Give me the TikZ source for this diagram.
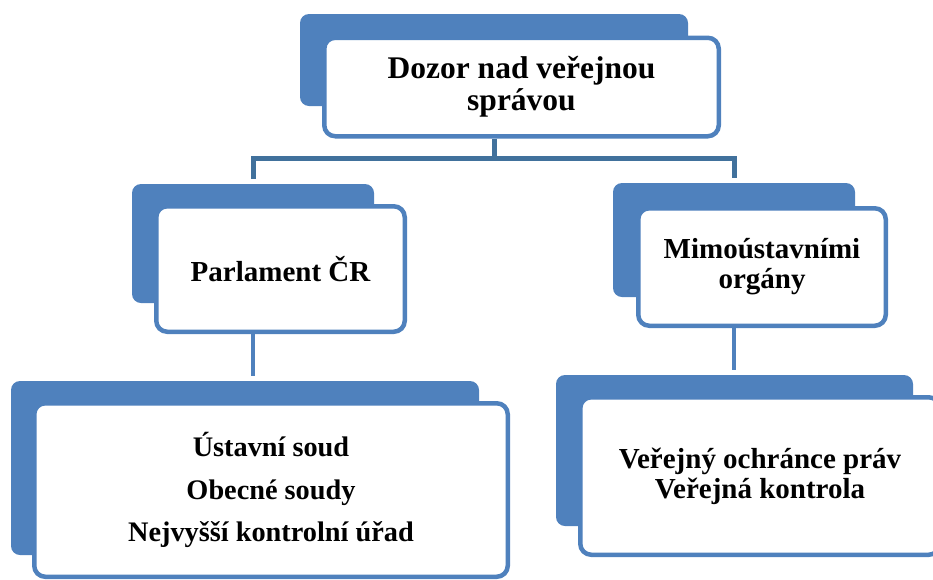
\documentclass[tikz,border=0pt]{standalone}
\usepackage{fontspec}
\setmainfont{Liberation Serif}
\definecolor{smartblue}{HTML}{4F81BD}
\definecolor{linkblue}{HTML}{41719C}

\begin{document}
\begin{tikzpicture}[x=1pt,y=-1pt,
    back/.style={fill=smartblue, rounded corners=9pt, inner sep=0pt},
    card/.style={draw=smartblue, line width=4.5pt, fill=white, rounded corners=11pt,
        inner sep=0pt, align=center, font=\bfseries\fontsize{29}{30}\selectfont},
    link/.style={draw=smartblue, line width=4.5pt},
    bar/.style={draw=linkblue, line width=5pt}]
    \path[use as bounding box, clip] (0,0) rectangle (933,579);
    % top level
    \node[back, minimum width=388pt, minimum height=92pt] (topback) at (494,60) {};
    \node[card, minimum width=394.5pt, minimum height=98.5pt,
        font=\bfseries\fontsize{31.5}{32}\selectfont] (topcard) at (521.5,87)
        {Dozor nad veřejnou\\správou};
    % second level
    \node[back, minimum width=242pt, minimum height=119pt] (leftback) at (253,243.5) {};
    \node[card, minimum width=248.5pt, minimum height=125.5pt] (leftcard) at (280.5,269)
        {Parlament ČR};
    \node[back, minimum width=242pt, minimum height=114pt] (rightback) at (734,240) {};
    \node[card, minimum width=247.5pt, minimum height=117.5pt] (rightcard) at (762,267)
        {Mimoústavními\\orgány};
    % third level
    \node[back, minimum width=468pt, minimum height=174pt] (botleftback) at (245,468) {};
    \node[card, minimum width=473.5pt, minimum height=173.5pt,
        font=\bfseries\fontsize{28.3}{30}\selectfont] (botleftcard) at (271,490)
        {Ústavní soud\\[12.5pt]Obecné soudy\\[12.5pt]Nejvyšší kontrolní úřad};
    \node[back, minimum width=357pt, minimum height=151pt] (botrightback) at (734.5,450.5) {};
    \node[card, minimum width=359.5pt, minimum height=157.5pt] (botrightcard) at (760,476)
        {Veřejný ochránce práv\\Veřejná kontrola};
    % connectors
    \coordinate (split) at (494,158);
    \draw[bar] (topcard.south -| topback) -- (split);
    \draw[bar, shorten <=5pt, shorten >=5pt] (leftback.north) -- (leftback.north |- split)
        -- (rightback.north |- split) -- (rightback.north);
    \draw[link, shorten >=5pt] (leftcard.south -| leftback) -- (leftback |- botleftback.north);
    \draw[link, shorten >=5pt] (rightcard.south -| rightback) -- (rightback |- botrightback.north);
\end{tikzpicture}
\end{document}
